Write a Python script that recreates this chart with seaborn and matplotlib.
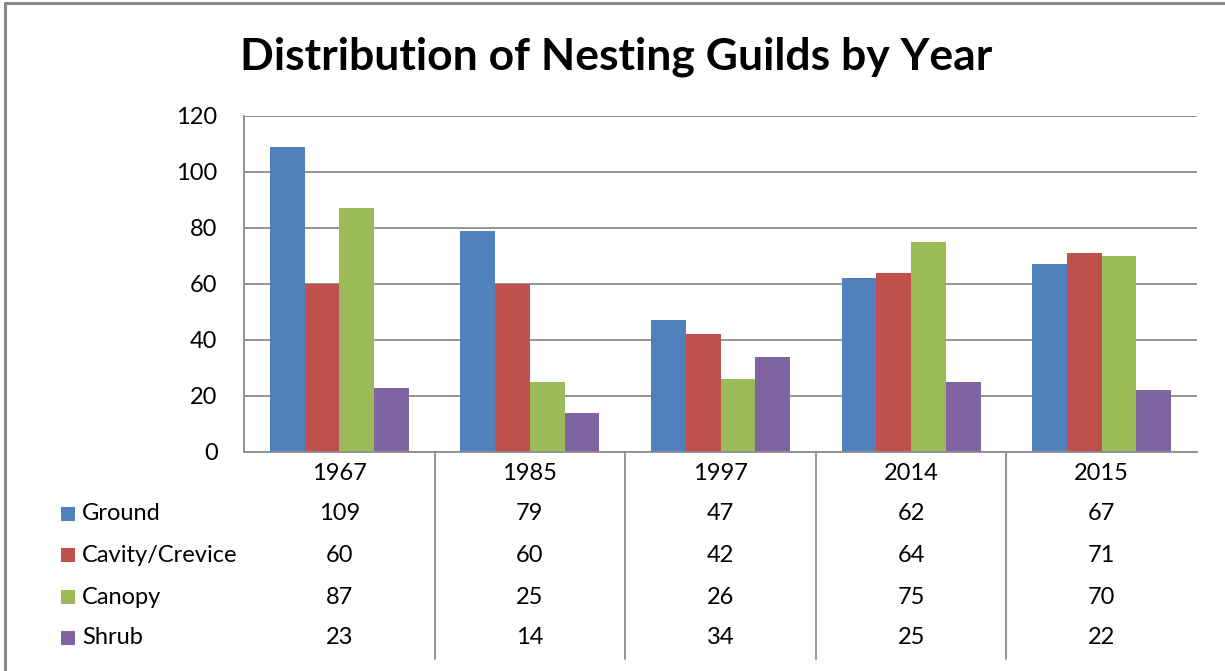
import numpy as np
import pandas as pd
import matplotlib
matplotlib.use("Agg")
import matplotlib.pyplot as plt
from matplotlib.patches import Rectangle
from matplotlib.lines import Line2D
import seaborn as sns

years = ["1967", "1985", "1997", "2014", "2015"]
guilds = ["Ground", "Cavity/Crevice", "Canopy", "Shrub"]
ground = [109, 79, 47, 62, 67]
cavity = [60, 60, 42, 64, 71]
canopy = [87, 25, 26, 75, 70]
shrub = [23, 14, 34, 25, 22]
colors = ["#4F81BD", "#C0504D", "#9BBB59", "#8064A2"]

series = [ground, cavity, canopy, shrub]
df = pd.DataFrame({
    "Year": years * len(guilds),
    "Guild": [g for g in guilds for _ in years],
    "Count": [v for s in series for v in s],
})

sns.set_style("white")
plt.rcParams["font.family"] = ["Lato", "DejaVu Sans"]
plt.rcParams["text.color"] = "black"
grid_col = "#8C8C8C"
W, H = 1225, 671
fs = 17

fig = plt.figure(figsize=(W / 100, H / 100), dpi=100)
ax = fig.add_axes([244 / W, 1 - 452 / H, (1197 - 244) / W, (452 - 116) / H])

sns.barplot(data=df, x="Year", y="Count", hue="Guild", order=years,
            hue_order=guilds, palette=colors, saturation=1, width=0.73,
            linewidth=0, legend=False, ax=ax)

ax.set_ylim(0, 120)
ax.set_xlim(-0.5, len(years) - 0.5)
ax.set_yticks(range(0, 121, 20))
ax.yaxis.grid(True, color=grid_col, linewidth=1.3)
ax.set_axisbelow(True)
ax.set_xlabel("")
ax.set_ylabel("")
for s in ["top", "right"]:
    ax.spines[s].set_visible(False)
for s in ["left", "bottom"]:
    ax.spines[s].set_color(grid_col)
    ax.spines[s].set_linewidth(1.3)
ax.tick_params(axis="y", length=0, pad=19, labelsize=fs, colors="black")
ax.tick_params(axis="x", length=0, pad=8, labelsize=fs, colors="black")

# data table below the axis
trans = ax.get_xaxis_transform()
ph = 452 - 116
for b in np.arange(0.5, len(years) - 1, 1.0):
    ax.add_line(Line2D([b, b], [0, -(659 - 452) / ph], transform=trans,
                       color=grid_col, linewidth=1.3, clip_on=False))

row_y = [514, 555, 597, 638]
for r, (g, s) in enumerate(zip(guilds, series)):
    yy = -(row_y[r] - 452) / ph
    for i, v in enumerate(s):
        ax.text(i, yy, str(v), transform=trans, ha="center", va="center",
                fontsize=fs, color="black")
    fig.patches.append(Rectangle((61 / W, 1 - (row_y[r] + 7) / H), 14 / W, 14 / H,
                                 transform=fig.transFigure, facecolor=colors[r],
                                 edgecolor="none"))
    fig.text(82 / W, 1 - row_y[r] / H, g, ha="left", va="center", fontsize=fs,
             color="black")

fig.suptitle("Distribution of Nesting Guilds by Year", x=616 / W, y=1 - 57 / H,
             va="center", fontsize=32, fontweight="bold", color="black")

# chart frame edges
fig.add_artist(Line2D([5 / W, 1], [1 - 3 / H, 1 - 3 / H], transform=fig.transFigure,
                      color="#888888", linewidth=2.2))
fig.add_artist(Line2D([5 / W, 5 / W], [0, 1 - 3 / H], transform=fig.transFigure,
                      color="#888888", linewidth=2.2))

fig.savefig("out.png", dpi=100)
